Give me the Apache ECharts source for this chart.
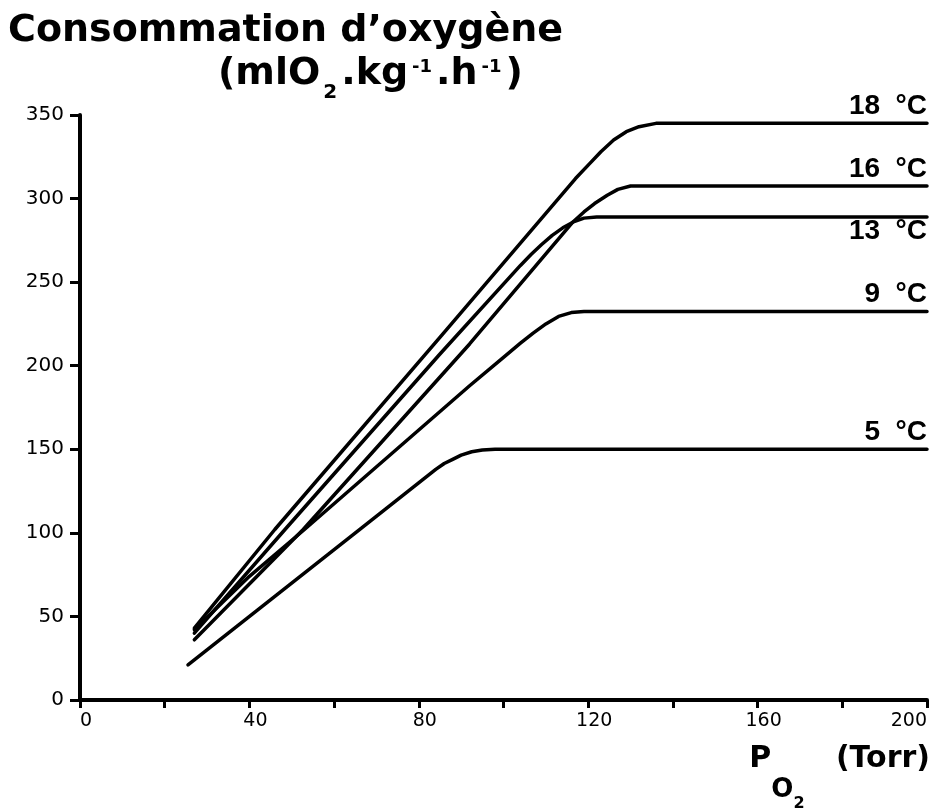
<!DOCTYPE html>
<html>
<head>
<meta charset="utf-8">
<script src="https://cdn.jsdelivr.net/npm/echarts@6/dist/echarts.min.js"></script>
<style>
  html, body { margin: 0; padding: 0; background: #fff; }
  #chart { width: 949px; height: 810px; }
</style>
</head>
<body>
<div id="chart"></div>
<script>
// courbes : [PO2 (Torr), consommation]
var c18 = [[27, 43], [46, 102], [86, 220], [117, 312], [120, 320], [123, 328], [126, 335], [129, 340], [132, 343], [136, 345], [200, 345]]
var c16 = [[27, 36], [52.7, 102], [92, 213], [116.4, 286], [119, 292], [121.5, 297], [124.5, 302], [127, 305.5], [130, 307.5], [200, 307.5]]
var c13 = [[27, 40], [48.4, 102], [85, 207], [104, 260], [106.5, 266.5], [109, 272.5], [111.5, 278], [114, 282.5], [116.5, 286], [119, 288.3], [122, 289], [200, 289]]
var c9 = [[27, 42], [40, 74], [53, 102], [92, 188], [100, 205], [104, 213.5], [107, 219.5], [110, 225], [113, 229.5], [116, 231.8], [119, 232.5], [200, 232.5]]
var c5 = [[25.5, 21], [66, 102], [84, 138], [86, 141.5], [88, 144], [90, 146.5], [92.5, 148.5], [95, 149.6], [98, 150], [200, 150]]
var temperatures = ['18  °C', '16  °C', '13  °C', '9  °C', '5  °C']
var xTicks = [0, 40, 80, 120, 160, 200]

var courbes = [c18, c16, c13, c9, c5]
var chart = echarts.init(document.getElementById('chart'))

var series = courbes.map(function(pts, i) {
    var data = pts.map(function(p, j) {
        if (j === pts.length - 1) {
            return {
                value: p,
                label: {
                    show: true,
                    formatter: temperatures[i],
                    position: i === 2 ? 'bottom' : 'top',
                    align: 'right',
                    distance: i === 2 ? 0 : 3,
                    color: '#000',
                    fontFamily: 'Liberation Sans, Arial, sans-serif',
                    fontWeight: 'bold',
                    fontSize: 28
                }
            }
        }
        return p
    })
    return {
        type: 'line',
        data: data,
        showSymbol: true,
        symbol: 'circle',
        symbolSize: 0,
        lineStyle: { color: '#000', width: 3.5, cap: 'round', join: 'round' },
        silent: true,
        animation: false
    }
})

var font = 'DejaVu Sans, sans-serif'

var option = {
    backgroundColor: '#fff',
    animation: false,
    title: [{
        text: "Consommation d\u2019oxygène",
        left: 8,
        top: 12,
        padding: 0,
        textStyle: { fontFamily: font, fontWeight: 'bold', fontSize: 38, color: '#000' }
    }, {
        text: '{t|(mlO}{sub|2}{t|.kg}{sup|-1}{t|.h}{sup|-1}{t|)}',
        left: 218,
        top: 55,
        padding: 0,
        textStyle: {
            rich: {
                t: { fontFamily: font, fontWeight: 'bold', fontSize: 38, color: '#000', lineHeight: 48, verticalAlign: 'top' },
                sub: { fontFamily: font, fontWeight: 'bold', fontSize: 20, color: '#000', lineHeight: 20, verticalAlign: 'bottom', padding: [0, 4, 0, 3] },
                sup: { fontFamily: font, fontWeight: 'bold', fontSize: 18, color: '#000', lineHeight: 18, verticalAlign: 'top', padding: [3, 4, 0, 4] }
            }
        }
    }, {
        text: '{p|P}{sub|O}{sub2|2}{t|   (Torr)}',
        right: 19,
        top: 744,
        padding: 0,
        textStyle: {
            rich: {
                p: { fontFamily: font, fontWeight: 'bold', fontSize: 30, color: '#000', lineHeight: 68, verticalAlign: 'top' },
                t: { fontFamily: font, fontWeight: 'bold', fontSize: 30, color: '#000', lineHeight: 68, verticalAlign: 'top' },
                sub: { fontFamily: font, fontWeight: 'bold', fontSize: 26, color: '#000', lineHeight: 26, verticalAlign: 'bottom', padding: [0, 0, 9, 0] },
                sub2: { fontFamily: font, fontWeight: 'bold', fontSize: 16, color: '#000', lineHeight: 16, verticalAlign: 'bottom' }
            }
        }
    }],
    grid: { left: 80, right: 22, top: 115, bottom: 110 },
    xAxis: {
        type: 'value',
        min: 0,
        max: 200,
        interval: 20,
        axisLine: { show: true, lineStyle: { color: '#000', width: 4 } },
        axisTick: { show: true, length: 8, lineStyle: { color: '#000', width: 3 } },
        splitLine: { show: false },
        axisLabel: {
            margin: 12,
            padding: [0, 0, 0, 12],
            color: '#000',
            fontFamily: font,
            fontSize: 19,
            alignMaxLabel: 'right',
            formatter: function(v) {
                return xTicks.indexOf(v) >= 0 ? String(v) : ''
            }
        }
    },
    yAxis: {
        type: 'value',
        min: 0,
        max: 350,
        interval: 50,
        axisLine: { show: true, lineStyle: { color: '#000', width: 4 } },
        axisTick: { show: true, length: 10, lineStyle: { color: '#000', width: 3 } },
        splitLine: { show: false },
        axisLabel: {
            margin: 16,
            padding: [0, 0, 8, 0],
            color: '#000',
            fontFamily: font,
            fontSize: 20
        }
    },
    series: series
}

chart.setOption(option)
</script>
</body>
</html>
